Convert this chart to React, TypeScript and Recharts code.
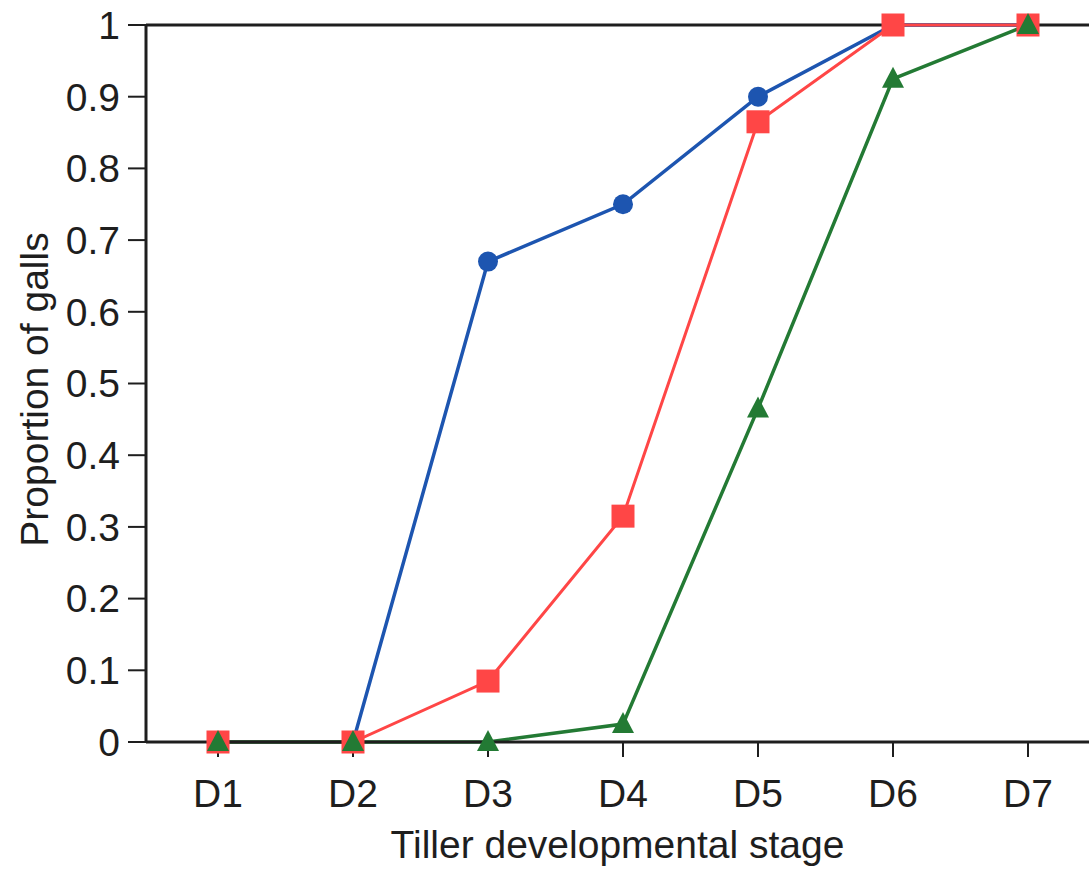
import { LineChart, Line, XAxis, YAxis, ReferenceLine } from 'recharts';

const stages = ['D1', 'D2', 'D3', 'D4', 'D5', 'D6', 'D7'];
const blueSeries = [0, 0, 0.67, 0.75, 0.9, 1.0, 1.0];
const redSeries = [0, 0, 0.085, 0.315, 0.865, 1.0, 1.0];
const greenSeries = [0, 0, 0, 0.025, 0.465, 0.925, 1.0];
const yTicks = [0, 0.1, 0.2, 0.3, 0.4, 0.5, 0.6, 0.7, 0.8, 0.9, 1];

const data = stages.map((stage, i) => ({
  stage,
  blue: blueSeries[i],
  red: redSeries[i],
  green: greenSeries[i],
}));

const FONT = "'Liberation Sans', Arial, Helvetica, sans-serif";
const INK = '#1e1e1e';
const BLUE = '#1d55b0';
const RED = '#ff4646';
const GREEN = '#237a34';

const CircleDot = (props: any) => {
  const { cx, cy, index } = props;
  return <circle key={`c-${index}`} cx={cx} cy={cy} r={10} fill={BLUE} />;
};

const SquareDot = (props: any) => {
  const { cx, cy, index } = props;
  return <rect key={`s-${index}`} x={cx - 11.5} y={cy - 11.5} width={23} height={23} fill={RED} />;
};

const TriangleDot = (props: any) => {
  const { cx, cy, index } = props;
  const pts = `${cx},${cy - 12} ${cx - 11},${cy + 9} ${cx + 11},${cy + 9}`;
  return <polygon key={`t-${index}`} points={pts} fill={GREEN} />;
};

export default function App() {
  return (
    <div
      style={{
        position: 'fixed',
        left: 0,
        top: 0,
        width: 1089,
        height: 871,
        overflow: 'hidden',
        background: '#fff',
        fontFamily: FONT,
      }}
    >
      <LineChart width={1089} height={871} data={data} margin={{ top: 25, right: 0, bottom: 0, left: 0 }}>
        <XAxis
          dataKey="stage"
          height={129}
          padding={{ left: 72, right: 61 }}
          axisLine={{ stroke: INK, strokeWidth: 3 }}
          tickLine={{ stroke: INK, strokeWidth: 2 }}
          tickSize={15}
          tickMargin={22}
          tick={{ fill: INK, fontSize: 39, fontFamily: FONT }}
          label={{
            content: (p: any) => {
              const vb = p.viewBox;
              return (
                <text
                  x={vb.x + vb.width / 2}
                  y={858}
                  textAnchor="middle"
                  fill={INK}
                  fontSize={39}
                  fontFamily={FONT}
                >
                  Tiller developmental stage
                </text>
              );
            },
          }}
        />
        <YAxis
          width={146}
          domain={[0, 1]}
          ticks={yTicks}
          interval={0}
          tickFormatter={(v: number) => String(v)}
          axisLine={{ stroke: INK, strokeWidth: 3 }}
          tickLine={{ stroke: INK, strokeWidth: 2 }}
          tickSize={18}
          tickMargin={8}
          tick={{ fill: INK, fontSize: 39, fontFamily: FONT }}
          label={{
            content: (p: any) => {
              const vb = p.viewBox;
              const cx = 48;
              const cy = vb.y + vb.height / 2 + 6;
              return (
                <text
                  x={cx}
                  y={cy}
                  transform={`rotate(-90 ${cx} ${cy})`}
                  textAnchor="middle"
                  fill={INK}
                  fontSize={39}
                  fontFamily={FONT}
                >
                  Proportion of galls
                </text>
              );
            },
          }}
        />
        <ReferenceLine y={1} stroke={INK} strokeWidth={3} ifOverflow="extendDomain" />
        <Line
          dataKey="blue"
          stroke={BLUE}
          strokeWidth={3.5}
          dot={CircleDot}
          activeDot={false}
          isAnimationActive={false}
        />
        <Line
          dataKey="red"
          stroke={RED}
          strokeWidth={3}
          dot={SquareDot}
          activeDot={false}
          isAnimationActive={false}
        />
        <Line
          dataKey="green"
          stroke={GREEN}
          strokeWidth={3.5}
          dot={TriangleDot}
          activeDot={false}
          isAnimationActive={false}
        />
      </LineChart>
    </div>
  );
}
